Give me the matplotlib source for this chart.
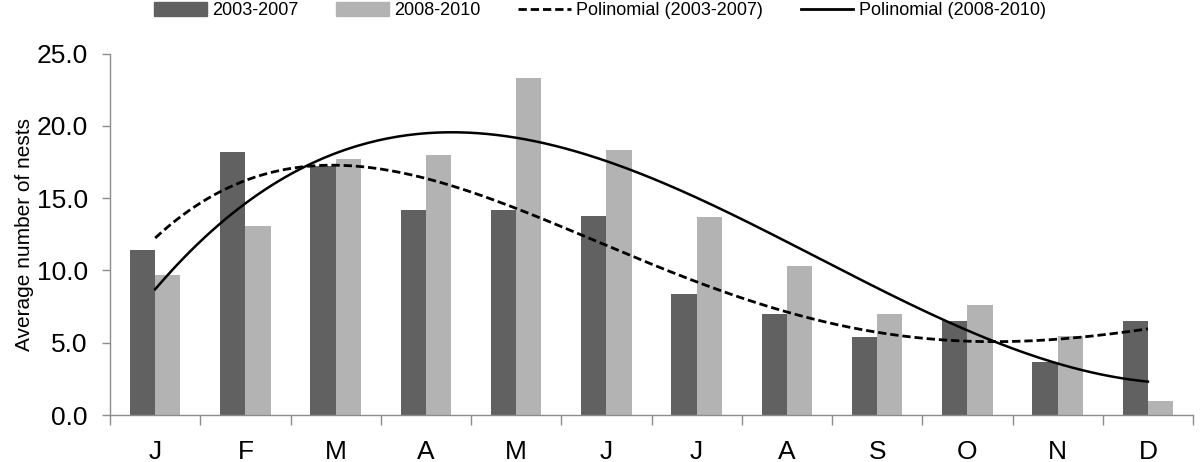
import numpy as np
import matplotlib
matplotlib.use("Agg")
import matplotlib.pyplot as plt
from matplotlib.patches import Patch
from matplotlib.lines import Line2D

months = ["J", "F", "M", "A", "M", "J", "J", "A", "S", "O", "N", "D"]
nests_2003_2007 = [11.4, 18.2, 17.2, 14.2, 14.2, 13.8, 8.4, 7.0, 5.4, 6.5, 3.7, 6.5]
nests_2008_2010 = [9.7, 13.1, 17.7, 18.0, 23.3, 18.3, 13.7, 10.3, 7.0, 7.6, 5.5, 1.0]

DARK = "#616161"
LIGHT = "#b3b3b3"
AXIS = "#8c8c8c"
DASH = (0, (3, 1.4))

plt.rcParams["font.family"] = ["Liberation Sans", "DejaVu Sans"]

fig = plt.figure(figsize=(12, 4.62), dpi=100)
ax = fig.add_axes([0.0917, 0.1017, 0.9025, 0.7823])

x = np.arange(len(months))
w = 0.28
ax.bar(x - w / 2, nests_2003_2007, w, color=DARK)
ax.bar(x + w / 2, nests_2008_2010, w, color=LIGHT)

# polynomial trendlines fitted to each series, drawn between the first and last category
xs = np.linspace(0, len(months) - 1, 300)
fit_a = np.polyfit(x, nests_2003_2007, 4)
fit_b = np.polyfit(x, nests_2008_2010, 3)
ax.plot(xs, np.polyval(fit_a, xs), color="black", lw=2, ls=DASH)
ax.plot(xs, np.polyval(fit_b, xs), color="black", lw=1.8)

ax.set_xlim(-0.5, len(months) - 0.5)
ax.set_ylim(0, 25)
yt = np.arange(0, 25.1, 5)
ax.set_yticks(yt)
ax.set_yticklabels([f"{v:.1f}" for v in yt], fontsize=19)
ax.set_xticks(x)
ax.set_xticklabels(months, fontsize=19)
ax.set_xticks(np.arange(-0.5, len(months), 1), minor=True)
ax.tick_params(axis="x", which="major", length=0, pad=18)
ax.tick_params(axis="x", which="minor", length=7, color=AXIS, width=1)
ax.tick_params(axis="y", length=6, color=AXIS, width=1, pad=10)
for s in ("top", "right"):
    ax.spines[s].set_visible(False)
for s in ("left", "bottom"):
    ax.spines[s].set_color(AXIS)
    ax.spines[s].set_linewidth(1)
ax.set_ylabel("Average number of nests", fontsize=15, labelpad=2)

handles = [
    Patch(color=DARK, label="2003-2007"),
    Patch(color=LIGHT, label="2008-2010"),
    Line2D([], [], color="black", lw=2, ls=DASH, label="Polinomial (2003-2007)"),
    Line2D([], [], color="black", lw=2, label="Polinomial (2008-2010)"),
]
fig.legend(handles=handles, loc="upper center", bbox_to_anchor=(0.5, 1.03), ncol=4,
           frameon=False, fontsize=13, handlelength=2.9, handleheight=0.75,
           columnspacing=2.1, handletextpad=0.3)

fig.savefig("out.png", dpi=100)
